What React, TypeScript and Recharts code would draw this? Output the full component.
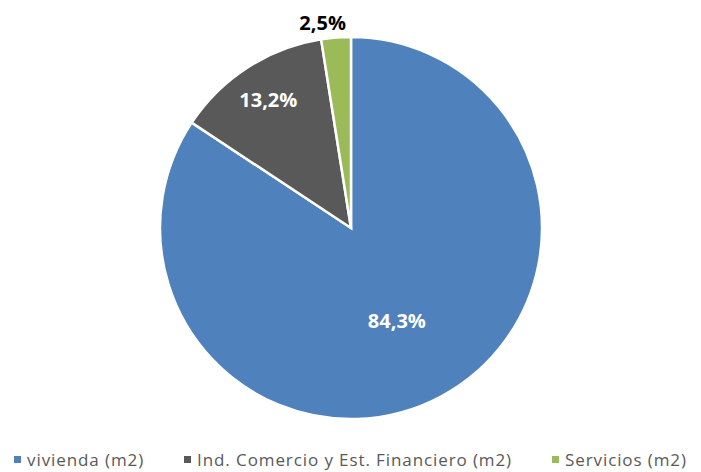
import React from "react";
import { PieChart, Pie, Cell, Legend } from "recharts";

const categories = ["vivienda (m2)", "Ind. Comercio y Est. Financiero (m2)", "Servicios (m2)"];
const values = [84.3, 13.2, 2.5];
const labels = ["84,3%", "13,2%", "2,5%"];
const colors = ["#4F81BD", "#595959", "#9BBB59"];
const labelColors = ["#FFFFFF", "#FFFFFF", "#000000"];

const data = categories.map((name, i) => ({ name, value: values[i] }));

const RADIAN = Math.PI / 180;
const labelRadiusFactor = [0.54, 0.8, 1.09];
const labelShiftX = [-3, 0, -12];
const labelShiftY = [2, 0, 2];

const renderLabel = (props: any) => {
  const { cx, cy, midAngle, outerRadius, index } = props;
  const r = outerRadius * labelRadiusFactor[index];
  const x = cx + r * Math.cos(-midAngle * RADIAN) + labelShiftX[index];
  const y = cy + r * Math.sin(-midAngle * RADIAN) + labelShiftY[index];
  return (
    <text
      x={x}
      y={y}
      fill={labelColors[index]}
      textAnchor="middle"
      dominantBaseline="central"
      fontFamily="'Open Sans', sans-serif"
      fontWeight="bold"
      fontSize={20}
    >
      {labels[index]}
    </text>
  );
};

const renderLegend = () => (
  <div
    style={{
      display: "flex",
      justifyContent: "center",
      alignItems: "center",
      gap: 40,
      fontFamily: "'Open Sans', sans-serif",
      fontSize: 17,
      letterSpacing: 0.9,
      color: "#595959",
      whiteSpace: "nowrap",
    }}
  >
    {categories.map((c, i) => (
      <div key={c} style={{ display: "flex", alignItems: "center" }}>
        <span
          style={{
            display: "inline-block",
            width: 7,
            height: 7,
            background: colors[i],
            marginRight: 6,
          }}
        />
        <span>{c}</span>
      </div>
    ))}
  </div>
);

export default function App() {
  return (
    <div style={{ position: "absolute", left: 0, top: 0, background: "#fff" }}>
      <PieChart width={701} height={472} margin={{ top: 0, right: 0, bottom: 0, left: 0 }}>
        <Pie
          data={data}
          dataKey="value"
          nameKey="name"
          cx={351}
          cy={228}
          outerRadius={191}
          startAngle={90}
          endAngle={-270}
          stroke="#FFFFFF"
          strokeWidth={2.5}
          label={renderLabel}
          labelLine={false}
          isAnimationActive={false}
        >
          {data.map((d, i) => (
            <Cell key={d.name} fill={colors[i]} />
          ))}
        </Pie>
        <Legend
          content={renderLegend}
          wrapperStyle={{ position: "absolute", left: 0, top: 448, width: 701, height: 26 }}
        />
      </PieChart>
    </div>
  );
}
